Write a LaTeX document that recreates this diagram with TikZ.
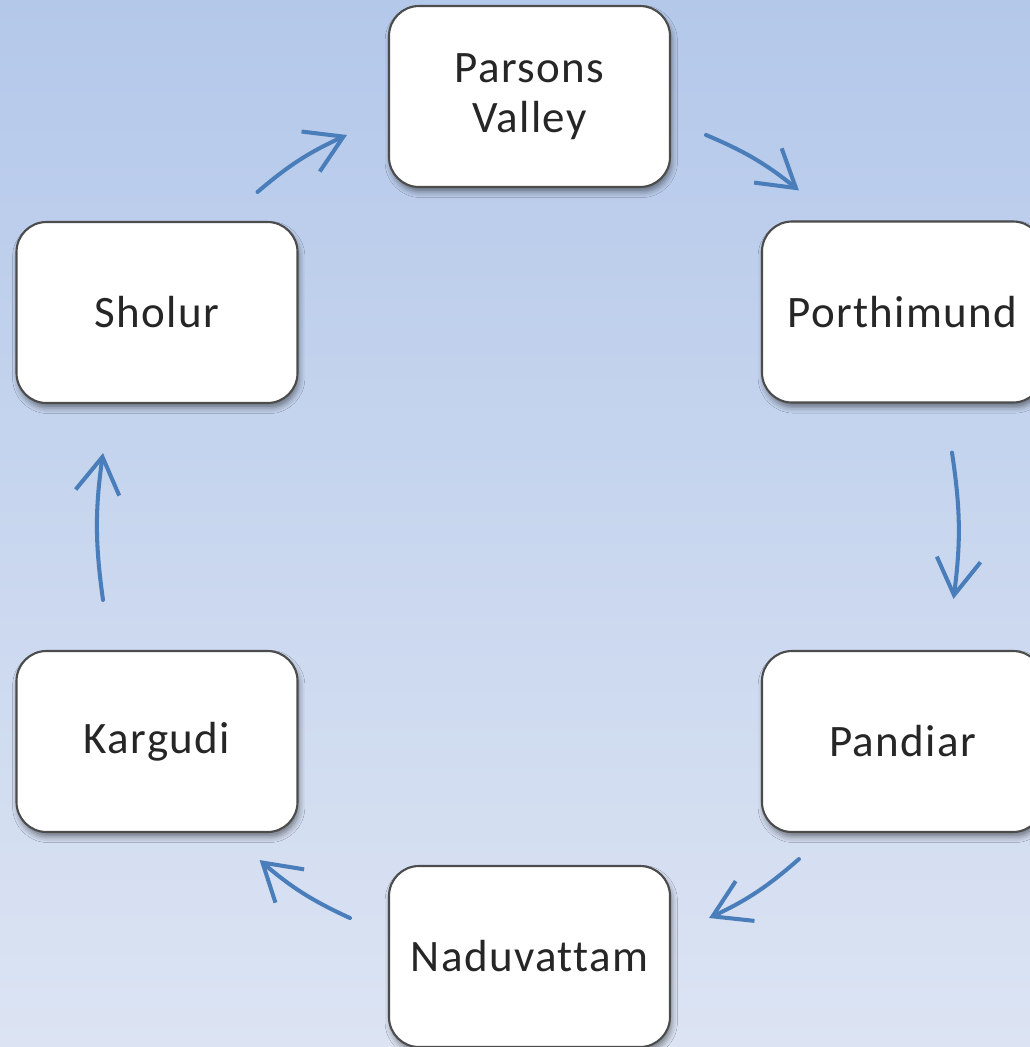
\documentclass[tikz,border=0pt]{standalone}
\usepackage{fontspec}
\setmainfont{Carlito}[Ligatures=CommonOff, LetterSpace=3.0]
\usepackage{tikz}
\usetikzlibrary{arrows.meta}
\usetikzlibrary{shadows.blur}
\definecolor{flowblue}{HTML}{4A7EBB}
\definecolor{bgtop}{HTML}{B4C8EA}
\definecolor{bgbottom}{HTML}{DCE4F3}
\tikzset{>={Straight Barb[length=3.6mm,width=4.4mm]}}
\tikzset{
    place/.style={draw=black!70, line width=0.6pt, fill=white, rounded corners=0.3cm,
        minimum width=2.81cm, minimum height=1.81cm, align=center, text=black!85,
        font=\fontsize{12.8}{14.4}\selectfont,
        blur shadow={shadow xshift=0.5pt, shadow yshift=-1.4pt, shadow blur radius=1.6pt, shadow opacity=45}},
    flow/.style={->, draw=flowblue, line width=1.15pt, line cap=round, bend left=8},
}

\begin{document}
\begin{tikzpicture}
		\clip (0,0) rectangle (10.30,-10.47);
		\shade[top color=bgtop, bottom color=bgbottom] (0,0) rectangle (10.30,-10.47);
		\node[place] (parsons) at (5.295,-0.965) {Parsons\\Valley};
		\node[place] (porthimund) at (9.025,-3.12) {Porthimund};
		\node[place] (pandiar) at (9.025,-7.415) {Pandiar};
		\node[place] (naduvattam) at (5.295,-9.565) {Naduvattam};
		\node[place] (kargudi) at (1.57,-7.415) {Kargudi};
		\node[place] (sholur) at (1.57,-3.125) {Sholur};
		\draw[flow] ([shift={(-0.41,0.29)}]sholur.north east) to ([shift={(-0.41,-0.385)}]parsons.west);
		\draw[flow] ([shift={(0.35,-0.385)}]parsons.east) to ([shift={(0.38,0.30)}]porthimund.north west);
		\draw[flow] ([shift={(0.495,-0.49)}]porthimund.south) to ([shift={(0.51,0.51)}]pandiar.north);
		\draw[flow] ([shift={(0.38,-0.26)}]pandiar.south west) to ([shift={(0.38,0.385)}]naduvattam.east);
		\draw[flow] ([shift={(-0.38,0.385)}]naduvattam.west) to ([shift={(-0.39,-0.27)}]kargudi.south east);
		\draw[flow] ([shift={(-0.54,0.50)}]kargudi.north) to ([shift={(-0.54,-0.49)}]sholur.south);
	\end{tikzpicture}
\end{document}
